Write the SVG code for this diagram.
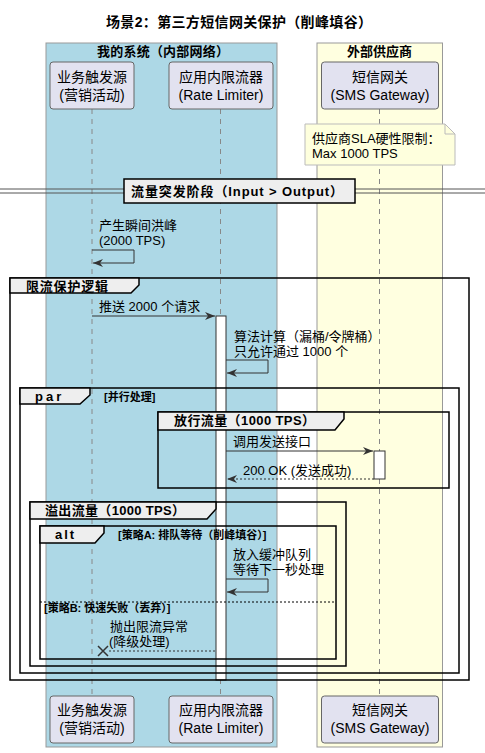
<svg xmlns="http://www.w3.org/2000/svg" width="485" height="753" viewBox="0 0 485 753">
<style>
text{font-family:"Liberation Sans","Noto Sans CJK SC",sans-serif;fill:#000}
.t{font-size:13px}
.p{font-size:14px;text-anchor:middle}
.b{font-weight:bold}
.s{font-size:11px;font-weight:bold}
.part{fill:#E2E2F0;stroke:#666;stroke-width:1}
.life{stroke:#888;stroke-width:1;stroke-dasharray:5,5}
.frame{fill:none;stroke:#000;stroke-width:1.5}
.tab{fill:#EEEEEE;stroke:#000;stroke-width:1.5}
.msg{stroke:#333;stroke-width:1;fill:none}
.dash{stroke-dasharray:2,2}
.act{fill:#fff;stroke:#333;stroke-width:1}
</style>
<defs>
<marker id="ah" markerWidth="11" markerHeight="8" refX="10" refY="4" orient="auto" markerUnits="userSpaceOnUse">
<path d="M0,0 L10,4 L0,8 L3,4 z" fill="#333"/>
</marker>
</defs>

<text x="106" y="27" class="b" font-size="14" textLength="266" lengthAdjust="spacing">场景2：第三方短信网关保护（削峰填谷）</text>

<g id="box-internal">
<rect x="46" y="43" width="231" height="704" fill="#ADD8E6" stroke="#999" stroke-width="1"/>
<text x="97" y="56" class="t b" textLength="132" lengthAdjust="spacing">我的系统（内部网络）</text>
</g>
<g id="box-vendor">
<rect x="317" y="43" width="125.5" height="704" fill="#FFFFE0" stroke="#999" stroke-width="1"/>
<text x="379.5" y="56" class="t b" text-anchor="middle">外部供应商</text>
</g>

<g id="lifelines">
<line x1="92" y1="109" x2="92" y2="696" class="life"/>
<line x1="220.5" y1="109" x2="220.5" y2="696" class="life"/>
<line x1="379.5" y1="109" x2="379.5" y2="696" class="life"/>
</g>

<g id="p-source">
<rect x="50" y="62" width="84" height="47" rx="3" class="part"/>
<text x="92" y="82" class="p">业务触发源</text>
<text x="92" y="100" class="p">(营销活动)</text>
<rect x="50" y="696" width="84" height="47" rx="3" class="part"/>
<text x="92" y="715" class="p">业务触发源</text>
<text x="92" y="733" class="p">(营销活动)</text>
</g>
<g id="p-limiter">
<rect x="169" y="62" width="104" height="47" rx="3" class="part"/>
<text x="221" y="82" class="p">应用内限流器</text>
<text x="221" y="100" class="p">(Rate Limiter)</text>
<rect x="169" y="696" width="104" height="47" rx="3" class="part"/>
<text x="221" y="715" class="p">应用内限流器</text>
<text x="221" y="733" class="p">(Rate Limiter)</text>
</g>
<g id="p-sms">
<rect x="321.5" y="62" width="117" height="47" rx="3" class="part"/>
<text x="380" y="82" class="p">短信网关</text>
<text x="380" y="100" class="p">(SMS Gateway)</text>
<rect x="321.5" y="696" width="117" height="47" rx="3" class="part"/>
<text x="380" y="715" class="p">短信网关</text>
<text x="380" y="733" class="p">(SMS Gateway)</text>
</g>

<g id="note-sla">
<path d="M305,124 H445 L455,134 V165 H305 Z" fill="#FEFFDD" stroke="#BBB" stroke-width="1"/>
<path d="M445,124 V134 H455" fill="none" stroke="#BBB" stroke-width="1"/>
<text x="312" y="143" class="t">供应商SLA硬性限制：</text>
<text x="312" y="158" class="t">Max 1000 TPS</text>
</g>

<g id="divider">
<line x1="0" y1="189" x2="485" y2="189" stroke="#555" stroke-width="1"/>
<line x1="0" y1="193" x2="485" y2="193" stroke="#555" stroke-width="1"/>
<rect x="124" y="179" width="231" height="24" fill="#EEEEEE" stroke="#000" stroke-width="1.5"/>
<text x="131" y="196" class="t b" textLength="212" lengthAdjust="spacing">流量突发阶段（Input &gt; Output）</text>
</g>

<g id="activations">
<rect x="216" y="316" width="10" height="364" class="act"/>
<rect x="374" y="451" width="11" height="28" class="act"/>
</g>

<g id="connectors">
<path d="M92,250 H134 V263 H93" class="msg" marker-end="url(#ah)"/>
<text x="99" y="230" class="t">产生瞬间洪峰</text>
<text x="99" y="245" class="t">(2000 TPS)</text>

<line x1="92" y1="316" x2="215" y2="316" class="msg" marker-end="url(#ah)"/>
<text x="99" y="311" class="t">推送 2000 个请求</text>

<path d="M226,360 H268 V373 H227" class="msg" marker-end="url(#ah)"/>
<text x="234" y="341" class="t">算法计算（漏桶/令牌桶）</text>
<text x="234" y="356" class="t">只允许通过 1000 个</text>

<line x1="226" y1="451" x2="373" y2="451" class="msg" marker-end="url(#ah)"/>
<text x="233" y="446" class="t">调用发送接口</text>

<line x1="374" y1="479" x2="227" y2="479" class="msg dash" marker-end="url(#ah)"/>
<text x="243" y="475" class="t">200 OK (发送成功)</text>

<path d="M226,579 H268 V592 H227" class="msg" marker-end="url(#ah)"/>
<text x="233" y="559" class="t">放入缓冲队列</text>
<text x="233" y="574" class="t">等待下一秒处理</text>

<line x1="215" y1="651" x2="107" y2="651" class="msg dash"/>
<path d="M98,646 L108,656 M108,646 L98,656" stroke="#333" stroke-width="1.5"/>
<text x="110" y="631" class="t">抛出限流异常</text>
<text x="109" y="646" class="t">(降级处理)</text>
</g>

<g id="group-protect">
<rect x="10" y="278" width="459" height="402" class="frame"/>
<path d="M10,278 H139 V285 L131,293 H10 Z" class="tab"/>
<text x="26" y="291" class="t b" textLength="82" lengthAdjust="spacing">限流保护逻辑</text>
</g>
<g id="group-par">
<rect x="20" y="388" width="439" height="285" class="frame"/>
<path d="M20,388 H90 V395 L80,404 H20 Z" class="tab"/>
<text x="35" y="401" class="t b" letter-spacing="3">par</text>
<text x="104" y="401" class="s">[并行处理]</text>
</g>
<g id="group-pass">
<rect x="158" y="412" width="291" height="76" class="frame"/>
<path d="M158,412 H344 V419 L335,430 H158 Z" class="tab"/>
<text x="174" y="425" class="t b" textLength="141" lengthAdjust="spacing">放行流量（1000 TPS）</text>
</g>
<g id="group-overflow">
<rect x="30" y="502" width="316" height="164" class="frame"/>
<path d="M30,502 H216 V509 L207,519 H30 Z" class="tab"/>
<text x="45" y="515" class="t b" textLength="140" lengthAdjust="spacing">溢出流量（1000 TPS）</text>
</g>
<g id="group-alt">
<rect x="40" y="526" width="296" height="133" class="frame"/>
<path d="M40,526 H104 V533 L95,543 H40 Z" class="tab"/>
<text x="55" y="539" class="t b" letter-spacing="2">alt</text>
<text x="118" y="539" class="s">[策略A: 排队等待（削峰填谷）]</text>
<line x1="40" y1="602" x2="336" y2="602" stroke="#000" stroke-width="1" stroke-dasharray="2,2"/>
<text x="44" y="612" class="s">[策略B: 快速失败（丢弃）]</text>
</g>
</svg>
